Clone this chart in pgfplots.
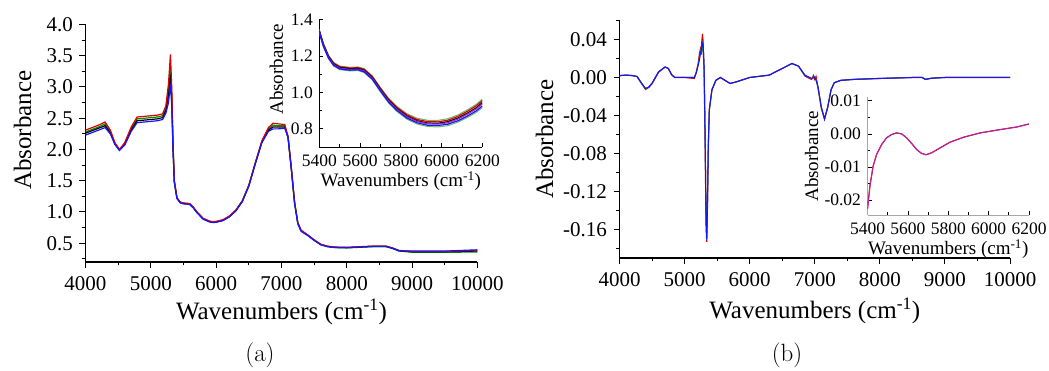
\documentclass[border=0pt]{standalone}
\usepackage{pgfplots}
\pgfplotsset{compat=1.18}
\usepackage{pgfplotstable}
\usepackage{fontspec}
\newfontfamily\tnr{Liberation Serif}

% Panel (a) main spectra: x, red, green, black, blue
\pgfplotstableread{
x r g k b
4000 2.31 2.28 2.26 2.23
4100 2.35 2.32 2.30 2.27
4200 2.39 2.36 2.34 2.31
4300 2.44 2.41 2.38 2.35
4380 2.31 2.29 2.27 2.25
4450 2.11 2.10 2.09 2.08
4520 2.00 1.995 1.99 1.985
4600 2.11 2.09 2.08 2.07
4700 2.36 2.33 2.31 2.29
4790 2.52 2.49 2.46 2.43
4900 2.53 2.50 2.47 2.44
5000 2.54 2.51 2.48 2.45
5100 2.55 2.52 2.49 2.46
5180 2.57 2.54 2.51 2.48
5230 2.70 2.65 2.62 2.58
5270 3.05 2.95 2.85 2.75
5300 3.52 3.35 3.20 3.05
5320 3.00 2.90 2.80 2.70
5340 2.10 2.05 2.00 1.98
5360 1.50 1.49 1.48 1.47
5400 1.23 1.225 1.22 1.215
5450 1.16 1.155 1.15 1.145
5500 1.145 1.14 1.135 1.13
5560 1.14 1.135 1.13 1.125
5600 1.13 1.125 1.12 1.115
5650 1.08 1.075 1.07 1.065
5700 1.01 1.005 1.00 0.995
5800 0.90 0.895 0.89 0.885
5900 0.855 0.85 0.845 0.84
5950 0.845 0.84 0.835 0.83
6000 0.85 0.845 0.84 0.835
6100 0.875 0.87 0.865 0.86
6200 0.935 0.93 0.925 0.92
6300 1.03 1.025 1.02 1.015
6400 1.18 1.175 1.17 1.165
6500 1.43 1.425 1.42 1.415
6600 1.79 1.785 1.78 1.775
6700 2.14 2.13 2.12 2.11
6800 2.35 2.33 2.31 2.29
6870 2.42 2.39 2.36 2.33
6950 2.41 2.38 2.36 2.33
7050 2.40 2.38 2.36 2.34
7100 2.21 2.20 2.20 2.19
7150 1.71 1.70 1.70 1.69
7200 1.16 1.15 1.15 1.14
7250 0.83 0.82 0.82 0.81
7300 0.71 0.70 0.70 0.69
7400 0.635 0.63 0.63 0.625
7500 0.555 0.55 0.55 0.545
7600 0.485 0.48 0.48 0.475
7700 0.455 0.45 0.45 0.445
7800 0.44 0.43 0.435 0.435
8000 0.435 0.425 0.43 0.43
8200 0.445 0.435 0.44 0.44
8400 0.455 0.445 0.45 0.45
8600 0.455 0.445 0.45 0.45
8700 0.425 0.415 0.42 0.42
8800 0.385 0.375 0.38 0.38
9000 0.37 0.355 0.365 0.375
9500 0.37 0.355 0.365 0.375
10000 0.385 0.36 0.375 0.395
}\tabA

% Panel (a) inset: x, green halo top, red, black, magenta, blue, green halo bottom
\pgfplotstableread{
x gt r k m b gb
5400 1.345 1.341 1.337 1.333 1.329 1.325
5420 1.270 1.266 1.262 1.258 1.254 1.250
5445 1.205 1.201 1.197 1.193 1.189 1.185
5470 1.165 1.161 1.157 1.153 1.149 1.145
5500 1.145 1.141 1.137 1.133 1.129 1.125
5550 1.138 1.134 1.130 1.126 1.122 1.118
5590 1.140 1.136 1.132 1.128 1.124 1.120
5620 1.131 1.127 1.122 1.118 1.113 1.109
5660 1.091 1.087 1.082 1.078 1.073 1.069
5700 1.027 1.022 1.017 1.013 1.008 1.003
5740 0.968 0.963 0.957 0.953 0.947 0.942
5780 0.924 0.918 0.912 0.908 0.902 0.896
5830 0.883 0.877 0.870 0.866 0.859 0.853
5880 0.858 0.851 0.844 0.840 0.833 0.826
5930 0.847 0.840 0.832 0.828 0.820 0.813
5980 0.846 0.838 0.830 0.826 0.818 0.810
6030 0.855 0.847 0.839 0.833 0.825 0.817
6080 0.876 0.868 0.859 0.853 0.844 0.836
6130 0.906 0.898 0.888 0.882 0.872 0.864
6170 0.934 0.926 0.915 0.909 0.898 0.890
6200 0.963 0.955 0.944 0.936 0.925 0.917
}\tabAi

% Panel (b) main: x, red, green, blue
\pgfplotstableread{
x r g b
4000 0.002 0.002 0.002
4100 0.0025 0.0025 0.0025
4200 0.002 0.002 0.002
4270 0.001 0.001 0.001
4320 -0.0045 -0.004 -0.004
4400 -0.0125 -0.012 -0.0115
4450 -0.0105 -0.010 -0.010
4500 -0.0065 -0.006 -0.006
4600 0.0055 0.006 0.006
4700 0.011 0.011 0.011
4750 0.0095 0.0095 0.0095
4800 0.003 0.003 0.003
4850 0.0 0.0 0.0
5000 0.0 0.0 0.0
5150 -0.001 0.0 0.0
5180 0.006 0.005 0.005
5210 0.015 0.014 0.013
5230 0.026 0.021 0.019
5245 0.030 0.027 0.026
5255 0.024 0.030 0.028
5265 0.038 0.027 0.033
5275 0.046 0.036 0.036
5285 0.032 0.038 0.035
5300 0.008 0.010 0.010
5315 -0.065 -0.060 -0.060
5330 -0.155 -0.150 -0.150
5340 -0.173 -0.171 -0.170
5350 -0.140 -0.140 -0.140
5365 -0.070 -0.070 -0.070
5380 -0.034 -0.034 -0.034
5420 -0.013 -0.013 -0.013
5480 -0.003 -0.003 -0.003
5550 0.0 0.0 0.0
5620 -0.003 -0.003 -0.003
5700 -0.0063 -0.0063 -0.0063
5800 -0.0045 -0.0045 -0.0045
6000 0.0 0.0 0.0
6300 0.0025 0.0025 0.0025
6500 0.0095 0.0095 0.0095
6650 0.0147 0.0147 0.0147
6750 0.012 0.012 0.012
6850 0.0015 0.002 0.0025
6950 -0.002 -0.001 -0.001
6980 0.002 0.0 -0.0005
7000 -0.002 0.001 0.0
7020 0.001 -0.002 -0.003
7050 -0.011 -0.010 -0.010
7100 -0.032 -0.031 -0.031
7150 -0.044 -0.0435 -0.0435
7200 -0.031 -0.031 -0.031
7250 -0.013 -0.013 -0.013
7300 -0.0055 -0.0055 -0.0055
7400 -0.003 -0.003 -0.003
7600 -0.002 -0.002 -0.002
8000 -0.001 -0.001 -0.001
8500 0.0 0.0 0.0
8650 0.0 0.0 0.0
8700 -0.002 -0.002 -0.002
8800 -0.0007 -0.0007 -0.0007
9000 0.0 0.0 0.0
10000 0.0 0.0 0.0
}\tabB

% Panel (b) inset
\pgfplotstableread{
x y
5400 -0.0227
5412 -0.0157
5428 -0.0097
5445 -0.0062
5470 -0.0032
5494 -0.0012
5519 -0.0002
5544 0.0003
5569 0.0
5594 -0.0012
5619 -0.0029
5643 -0.0047
5668 -0.0059
5690 -0.0063
5718 -0.0057
5760 -0.0042
5809 -0.0025
5876 -0.0010
5958 0.0003
6057 0.0013
6140 0.0021
6200 0.0030
}\tabBi

\definecolor{cred}{RGB}{220,0,0}
\definecolor{cgreen}{RGB}{0,140,0}
\definecolor{cblue}{RGB}{20,20,255}
\definecolor{cmag}{RGB}{170,40,190}

\pgfplotsset{
  mainax/.style={
    scale only axis, axis lines*=left,
    axis line style={line width=1.1pt},
    tick align=outside,
    major tick length=6pt, minor tick length=3.5pt,
    every tick/.style={black, line width=1pt},
    tick label style={font=\tnr\fontsize{21}{24}\selectfont},
    /pgf/number format/assume math mode=true,
    label style={font=\tnr\fontsize{25}{30}\selectfont},
    scaled x ticks=false, scaled y ticks=false,
    xmin=4000, xmax=10000,
    xtick={4000,5000,6000,7000,8000,9000,10000},
    minor xtick={4500,5500,6500,7500,8500,9500},
    xticklabel style={/pgf/number format/1000 sep={}, yshift=-5pt},
    yticklabel style={xshift=-3pt},
    xlabel={Wavenumbers (cm\textsuperscript{-1})},
    ylabel={Absorbance},
    xlabel style={at={(axis description cs:0.5,0)}, anchor=center, yshift=-50pt},
  },
  insax/.style={
    scale only axis, axis lines*=left,
    axis line style={line width=0.8pt},
    tick align=inside,
    major tick length=4pt, minor tick length=2.5pt,
    every tick/.style={black, line width=0.7pt},
    tick label style={font=\tnr\fontsize{17.5}{20}\selectfont},
    /pgf/number format/assume math mode=true,
    label style={font=\tnr\fontsize{19}{22}\selectfont},
    scaled x ticks=false, scaled y ticks=false,
    xmin=5400, xmax=6200,
    xtick={5400,5600,5800,6000,6200},
    minor xtick={5500,5700,5900,6100},
    xticklabel style={/pgf/number format/1000 sep={}, yshift=-4pt},
    yticklabel style={xshift=-3pt},
    xlabel={Wavenumbers (cm\textsuperscript{-1})},
    ylabel={Absorbance},
    xlabel style={at={(axis description cs:0.5,0)}, anchor=center, yshift=-34pt},
  },
}

\begin{document}
\begin{tikzpicture}[x=1pt,y=1pt]
\useasboundingbox (0,0) rectangle (1049,371);

% ---------- (a) main ----------
\begin{axis}[mainax,
  at={(85.5pt,109pt)}, anchor=south west,
  width=392pt, height=237.5pt,
  ymin=0.2, ymax=4.0,
  ytick={0.5,1,1.5,2,2.5,3,3.5,4},
  minor ytick={0.25,0.75,1.25,1.75,2.25,2.75,3.25,3.75},
  yticklabel style={/pgf/number format/.cd, fixed, fixed zerofill, precision=1},
  ylabel style={at={(axis description cs:0,0.5)}, anchor=center, yshift=63pt, xshift=13pt},
]
\addplot[cgreen, line width=1.2pt] table[x=x,y=g] {\tabA};
\addplot[black, line width=1.2pt] table[x=x,y=k] {\tabA};
\addplot[cred, line width=1.2pt] table[x=x,y=r] {\tabA};
\addplot[cblue, line width=1.2pt] table[x=x,y=b] {\tabA};
\end{axis}

% ---------- (a) inset ----------
\begin{axis}[insax,
  at={(319.3pt,224pt)}, anchor=south west,
  width=163pt, height=127.4pt,
  ymin=0.7, ymax=1.4,
  ytick={0.8,1.0,1.2,1.4},
  minor ytick={0.7,0.9,1.1,1.3},
  yticklabel style={/pgf/number format/.cd, fixed, fixed zerofill, precision=1},
  ylabel style={at={(axis description cs:0,0.5)}, anchor=center, yshift=43pt, xshift=14pt},
]
\addplot[cgreen!60, line width=1pt] table[x=x,y=gt] {\tabAi};
\addplot[cgreen!60, line width=1pt] table[x=x,y=gb] {\tabAi};
\addplot[cred, line width=1.2pt] table[x=x,y=r] {\tabAi};
\addplot[black, line width=1.2pt] table[x=x,y=k] {\tabAi};
\addplot[cmag, line width=1.2pt] table[x=x,y=m] {\tabAi};
\addplot[cblue, line width=1.2pt] table[x=x,y=b] {\tabAi};
\end{axis}

% ---------- (b) main ----------
\begin{axis}[mainax,
  at={(619.5pt,113pt)}, anchor=south west,
  width=390.5pt, height=237.5pt,
  ymin=-0.19, ymax=0.06,
  ytick={-0.16,-0.12,-0.08,-0.04,0,0.04},
  minor ytick={-0.18,-0.14,-0.10,-0.06,-0.02,0.02,0.06},
  yticklabel style={/pgf/number format/.cd, fixed, fixed zerofill, precision=2},
  ylabel style={at={(axis description cs:0,0.5)}, anchor=center, yshift=75pt},
  xlabel style={yshift=-3pt},
]
\addplot[cred, line width=1.2pt] table[x=x,y=r] {\tabB};
\addplot[teal, line width=1pt] table[x=x,y=g] {\tabB};
\addplot[cblue, line width=1pt] table[x=x,y=b] {\tabB};
\end{axis}

% ---------- (b) inset ----------
\begin{axis}[insax,
  at={(867.5pt,156pt)}, anchor=south west,
  width=161.5pt, height=117.5pt,
  axis line style={gray!70},
  ymin=-0.0245, ymax=0.011,
  ytick={-0.02,-0.01,0,0.01},
  minor ytick={-0.015,-0.005,0.005},
  yticklabel style={/pgf/number format/.cd, fixed, fixed zerofill, precision=2},
  ylabel style={at={(axis description cs:0,0.5)}, anchor=center, yshift=56pt},
]
\addplot[cred, line width=1.2pt] table[x=x,y=y] {\tabBi};
\addplot[cmag, line width=0.9pt] table[x=x,y=y] {\tabBi};
\end{axis}

\node[font=\fontsize{25}{30}\selectfont] at (260,16) {(a)};
\node[font=\fontsize{25}{30}\selectfont] at (787,16) {(b)};
\end{tikzpicture}
\end{document}
